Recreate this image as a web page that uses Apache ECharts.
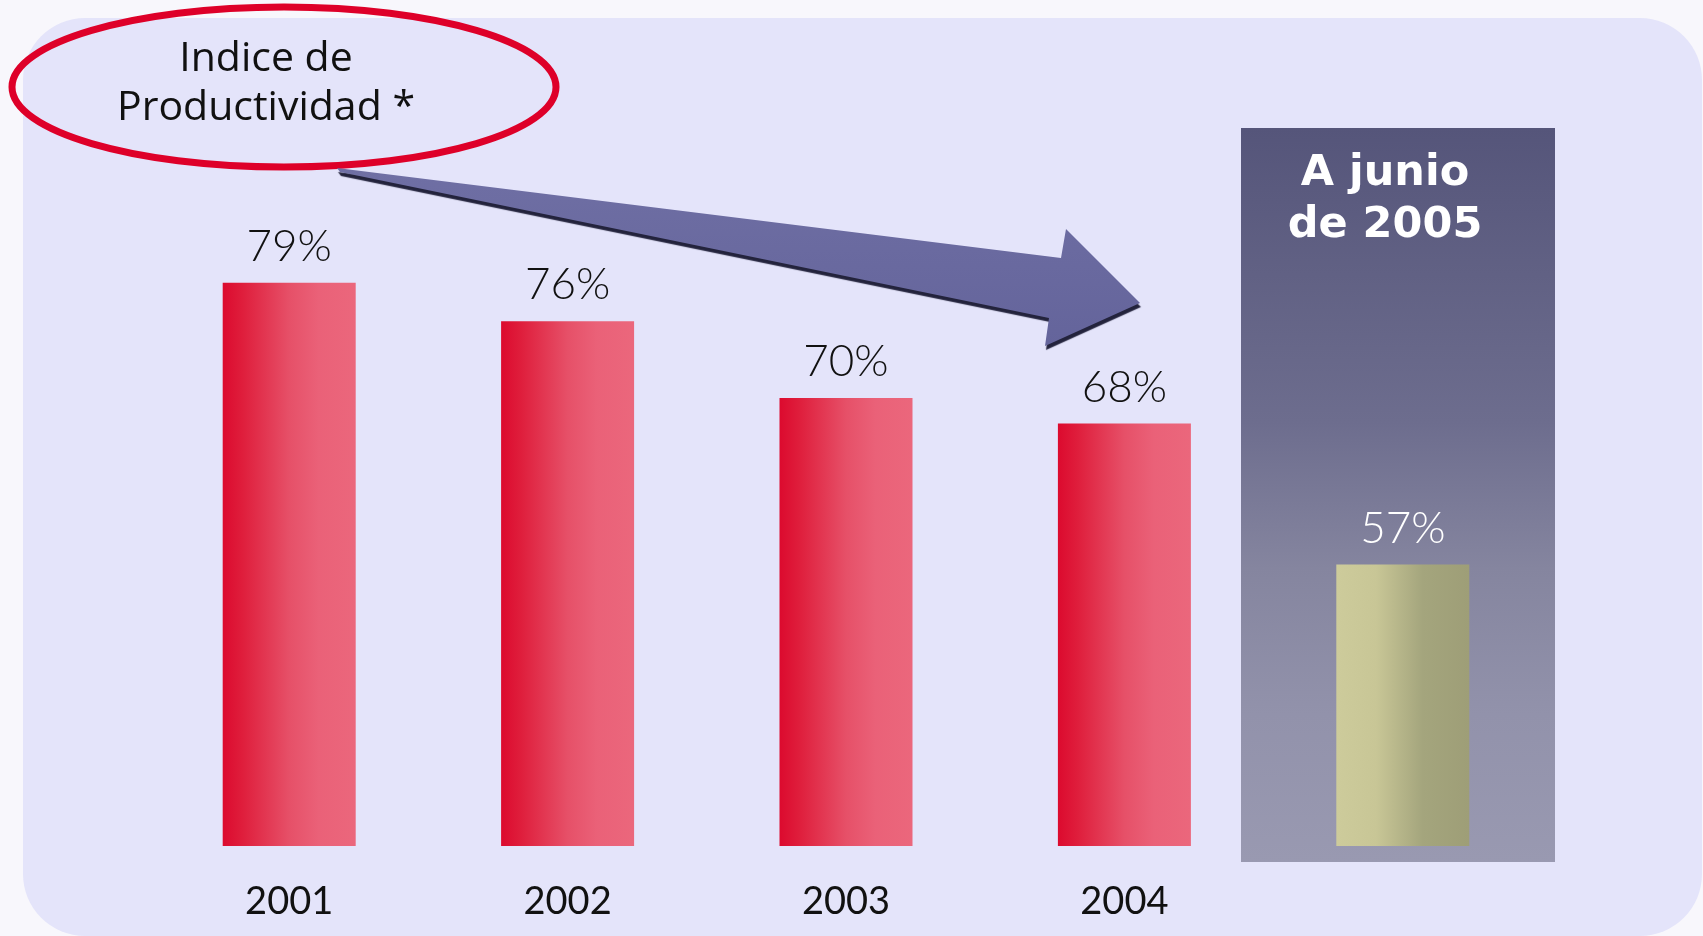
<!DOCTYPE html>
<html>
<head>
<meta charset="utf-8">
<script src="https://cdn.jsdelivr.net/npm/echarts@6/dist/echarts.min.js"></script>
<style>
html,body{margin:0;padding:0;background:#f8f7fc;}
#chart{width:1703px;height:936px;}
</style>
</head>
<body>
<div id="chart"></div>
<script>
const categories = ['2001', '2002', '2003', '2004', 'A junio de 2005'];
const tickLabels = ['2001', '2002', '2003', '2004', ''];
const values = [79, 76, 70, 68, 57];
const titleText = 'Indice de\nProductividad *';
const boxText = 'A junio\nde 2005';

const redGrad = {
  type: 'linear', x: 0, y: 0, x2: 1, y2: 0,
  colorStops: [
    {offset: 0, color: '#dc0a2e'},
    {offset: 0.15, color: '#df1e3c'},
    {offset: 0.5, color: '#e65068'},
    {offset: 0.72, color: '#ea6178'},
    {offset: 1, color: '#eb677c'}
  ]
};
const khakiGrad = {
  type: 'linear', x: 0, y: 0, x2: 1, y2: 0,
  colorStops: [
    {offset: 0, color: '#cdcb9b'},
    {offset: 0.3, color: '#c8c696'},
    {offset: 0.65, color: '#a4a57d'},
    {offset: 1, color: '#9e9e77'}
  ]
};

const seriesData = values.map((v, i) => {
  const last = i === values.length - 1;
  return {
    value: v,
    itemStyle: {color: last ? khakiGrad : redGrad},
    label: {color: last ? '#ffffff' : '#111111'}
  };
});

const chart = echarts.init(document.getElementById('chart'));
chart.setOption({
  backgroundColor: '#f8f7fc',
  animation: false,
  grid: {left: 150, right: 161, top: 270, bottom: 90},
  xAxis: {
    type: 'category',
    data: categories,
    axisLine: {show: false},
    axisTick: {show: false},
    axisLabel: {
      margin: 37,
      fontFamily: 'Lato',
      fontWeight: 400,
      fontSize: 38,
      color: '#111111',
      formatter: (val, idx) => tickLabels[idx]
    }
  },
  yAxis: {
    type: 'value',
    min: 35,
    max: 80,
    show: false,
    splitLine: {show: false}
  },
  graphic: [
    {
      type: 'rect', z: 0, silent: true,
      shape: {x: 23, y: 18, width: 1679, height: 918, r: 62},
      style: {fill: '#e4e4fa'}
    },
    {
      type: 'rect', z: 1, silent: true,
      shape: {x: 1241, y: 128, width: 314, height: 734},
      style: {
        fill: {
          type: 'linear', x: 0, y: 0, x2: 0, y2: 1,
          colorStops: [
            {offset: 0, color: '#55557a'},
            {offset: 0.4, color: '#6d6d8e'},
            {offset: 0.6, color: '#85859f'},
            {offset: 0.8, color: '#9292ab'},
            {offset: 1, color: '#9999b1'}
          ]
        }
      }
    },
    {
      type: 'text', z: 5, silent: true,
      style: {
        x: 1385, y: 200, text: boxText,
        fontFamily: 'DejaVu Sans', fontWeight: 'bold', fontSize: 43,
        lineHeight: 52, fill: '#ffffff',
        textAlign: 'center', textVerticalAlign: 'middle'
      }
    },
    {
      type: 'ellipse', z: 3, silent: true,
      shape: {cx: 284, cy: 87, rx: 272, ry: 80},
      style: {fill: 'transparent', stroke: '#de0029', lineWidth: 7}
    },
    {
      type: 'text', z: 5, silent: true,
      style: {
        x: 266, y: 84, text: titleText,
        fontFamily: 'Open Sans', fontSize: 41, lineHeight: 49,
        fill: '#111111', textAlign: 'center', textVerticalAlign: 'middle'
      }
    },
    {
      type: 'polygon', z: 3, silent: true,
      shape: {points: [[337, 168], [1061, 258], [1066, 229], [1140, 303], [1045, 346], [1049, 318], [340, 172]]},
      style: {
        fill: {
          type: 'linear', x: 0, y: 0, x2: 0, y2: 1,
          colorStops: [
            {offset: 0, color: '#6f6fa4'},
            {offset: 1, color: '#64649b'}
          ]
        },
        shadowColor: '#23233c', shadowBlur: 1, shadowOffsetX: 1, shadowOffsetY: 4
      }
    }
  ],
  series: [{
    type: 'bar',
    z: 2,
    barWidth: 133,
    data: seriesData,
    label: {
      show: true,
      position: 'top',
      distance: 14,
      fontFamily: 'Lato',
      fontWeight: 300,
      fontSize: 44,
      formatter: p => p.value + '%'
    }
  }]
});
</script>
</body>
</html>
